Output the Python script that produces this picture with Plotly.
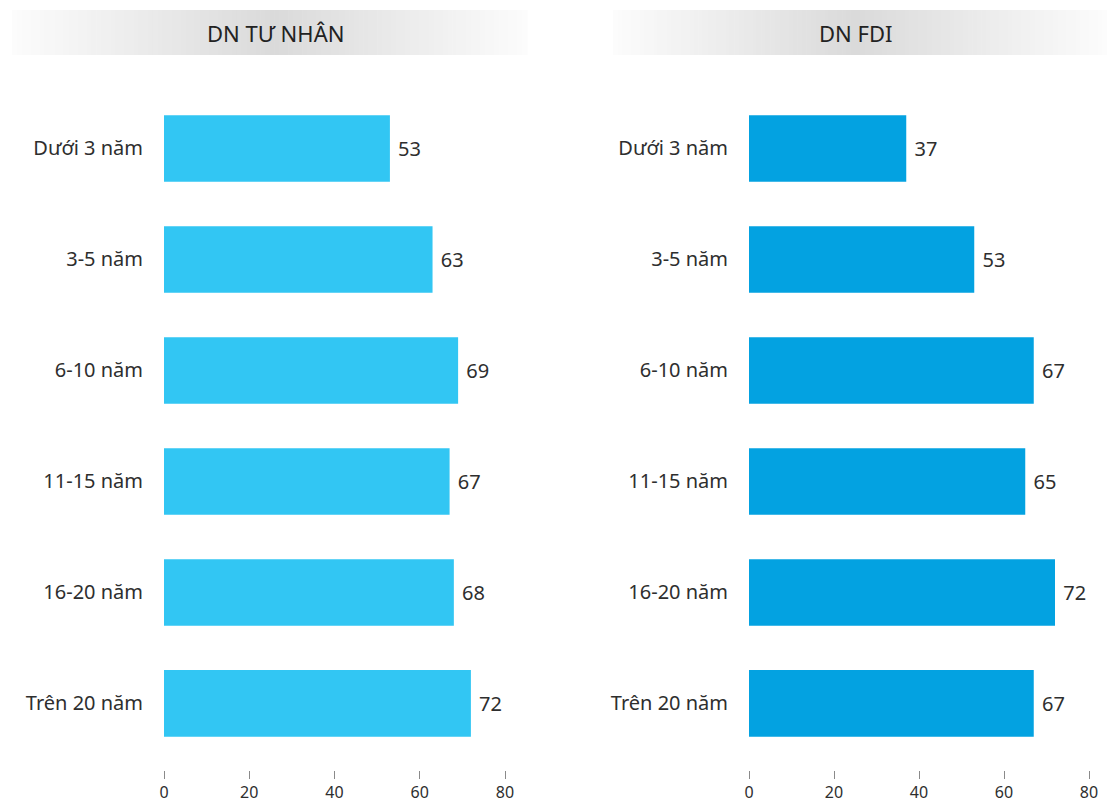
import plotly.graph_objects as go

# Company age groups (top to bottom)
categories = ["Dưới 3 năm", "3-5 năm", "6-10 năm", "11-15 năm", "16-20 năm", "Trên 20 năm"]
private_values = [53, 63, 69, 67, 68, 72]
fdi_values = [37, 53, 67, 65, 72, 67]
panel_titles = ["DN TƯ NHÂN", "DN FDI"]
tick_values = [0, 20, 40, 60, 80]

W, H = 1107, 808
M_T, M_B = 93, 38
PLOT_H = H - M_T - M_B

FONT = "Noto Sans"
TEXT_COLOR = "#2e2e2e"
COLOR_PRIVATE = "#32c6f3"
COLOR_FDI = "#03a2e1"

fig = go.Figure()

fig.add_trace(go.Bar(
    y=categories, x=private_values, orientation="h",
    marker=dict(color=COLOR_PRIVATE, line=dict(width=0)),
    text=[f" {v}" for v in private_values], textposition="outside",
    textfont=dict(size=20, color=TEXT_COLOR, family=FONT),
    cliponaxis=False, xaxis="x", yaxis="y", hoverinfo="skip",
))
fig.add_trace(go.Bar(
    y=categories, x=fdi_values, orientation="h",
    marker=dict(color=COLOR_FDI, line=dict(width=0)),
    text=[f" {v}" for v in fdi_values], textposition="outside",
    textfont=dict(size=20, color=TEXT_COLOR, family=FONT),
    cliponaxis=False, xaxis="x2", yaxis="y2", hoverinfo="skip",
))

xaxis_common = dict(
    range=[0, 80], tickvals=tick_values, showgrid=False, zeroline=False,
    showline=False, ticks="outside", ticklen=8, tickwidth=1, tickcolor="#8a8a8a",
    tickfont=dict(size=16, color=TEXT_COLOR, family=FONT), fixedrange=True,
    automargin=False,
)
yaxis_common = dict(
    range=[5.6, -0.5], showgrid=False, zeroline=False, showline=False,
    ticks="", ticklabelstandoff=20, automargin=False,
    tickfont=dict(size=20, color=TEXT_COLOR, family=FONT), fixedrange=True,
)

fig.update_layout(
    template="none",
    width=W, height=H,
    margin=dict(l=0, r=0, t=M_T, b=M_B, pad=0),
    paper_bgcolor="white", plot_bgcolor="white",
    showlegend=False, bargap=0.4,
    font=dict(family=FONT, color=TEXT_COLOR),
    xaxis=dict(domain=[164 / W, 505 / W], anchor="y", **xaxis_common),
    yaxis=dict(domain=[0, 1], anchor="x", **yaxis_common),
    xaxis2=dict(domain=[749 / W, 1089 / W], anchor="y2", **xaxis_common),
    yaxis2=dict(domain=[0, 1], anchor="x2", **yaxis_common),
)


def py(pixel_y):
    """Convert a pixel row to paper y."""
    return (H - M_B - pixel_y) / PLOT_H


# Header bands: white -> light grey -> white horizontal gradient
bands = [(12, 527, 275), (613, 1107, 855)]
band_top, band_bottom = 10, 55
steps = 110
shapes = []
for (x0, x1, cx), title in zip(bands, panel_titles):
    width = (x1 - x0) / steps
    for i in range(steps):
        sx0 = x0 + i * width
        mid = sx0 + width / 2
        half = (cx - x0) if mid < cx else (x1 - cx)
        t = max(0.0, 1 - abs(mid - cx) / half)
        g = round(252 - (252 - 218) * t)
        shapes.append(dict(
            type="rect", xref="paper", yref="paper", layer="below",
            x0=sx0 / W, x1=(sx0 + width + 0.6) / W,
            y0=py(band_bottom), y1=py(band_top),
            fillcolor=f"rgb({g},{g},{g})", line=dict(width=0),
        ))
    fig.add_annotation(
        x=cx / W, y=py((band_top + band_bottom) / 2), xref="paper", yref="paper",
        text=title, showarrow=False, xanchor="center", yanchor="middle",
        font=dict(size=22, color="#222222", family=FONT),
    )
fig.update_layout(shapes=shapes)

fig.write_html("out.html")
